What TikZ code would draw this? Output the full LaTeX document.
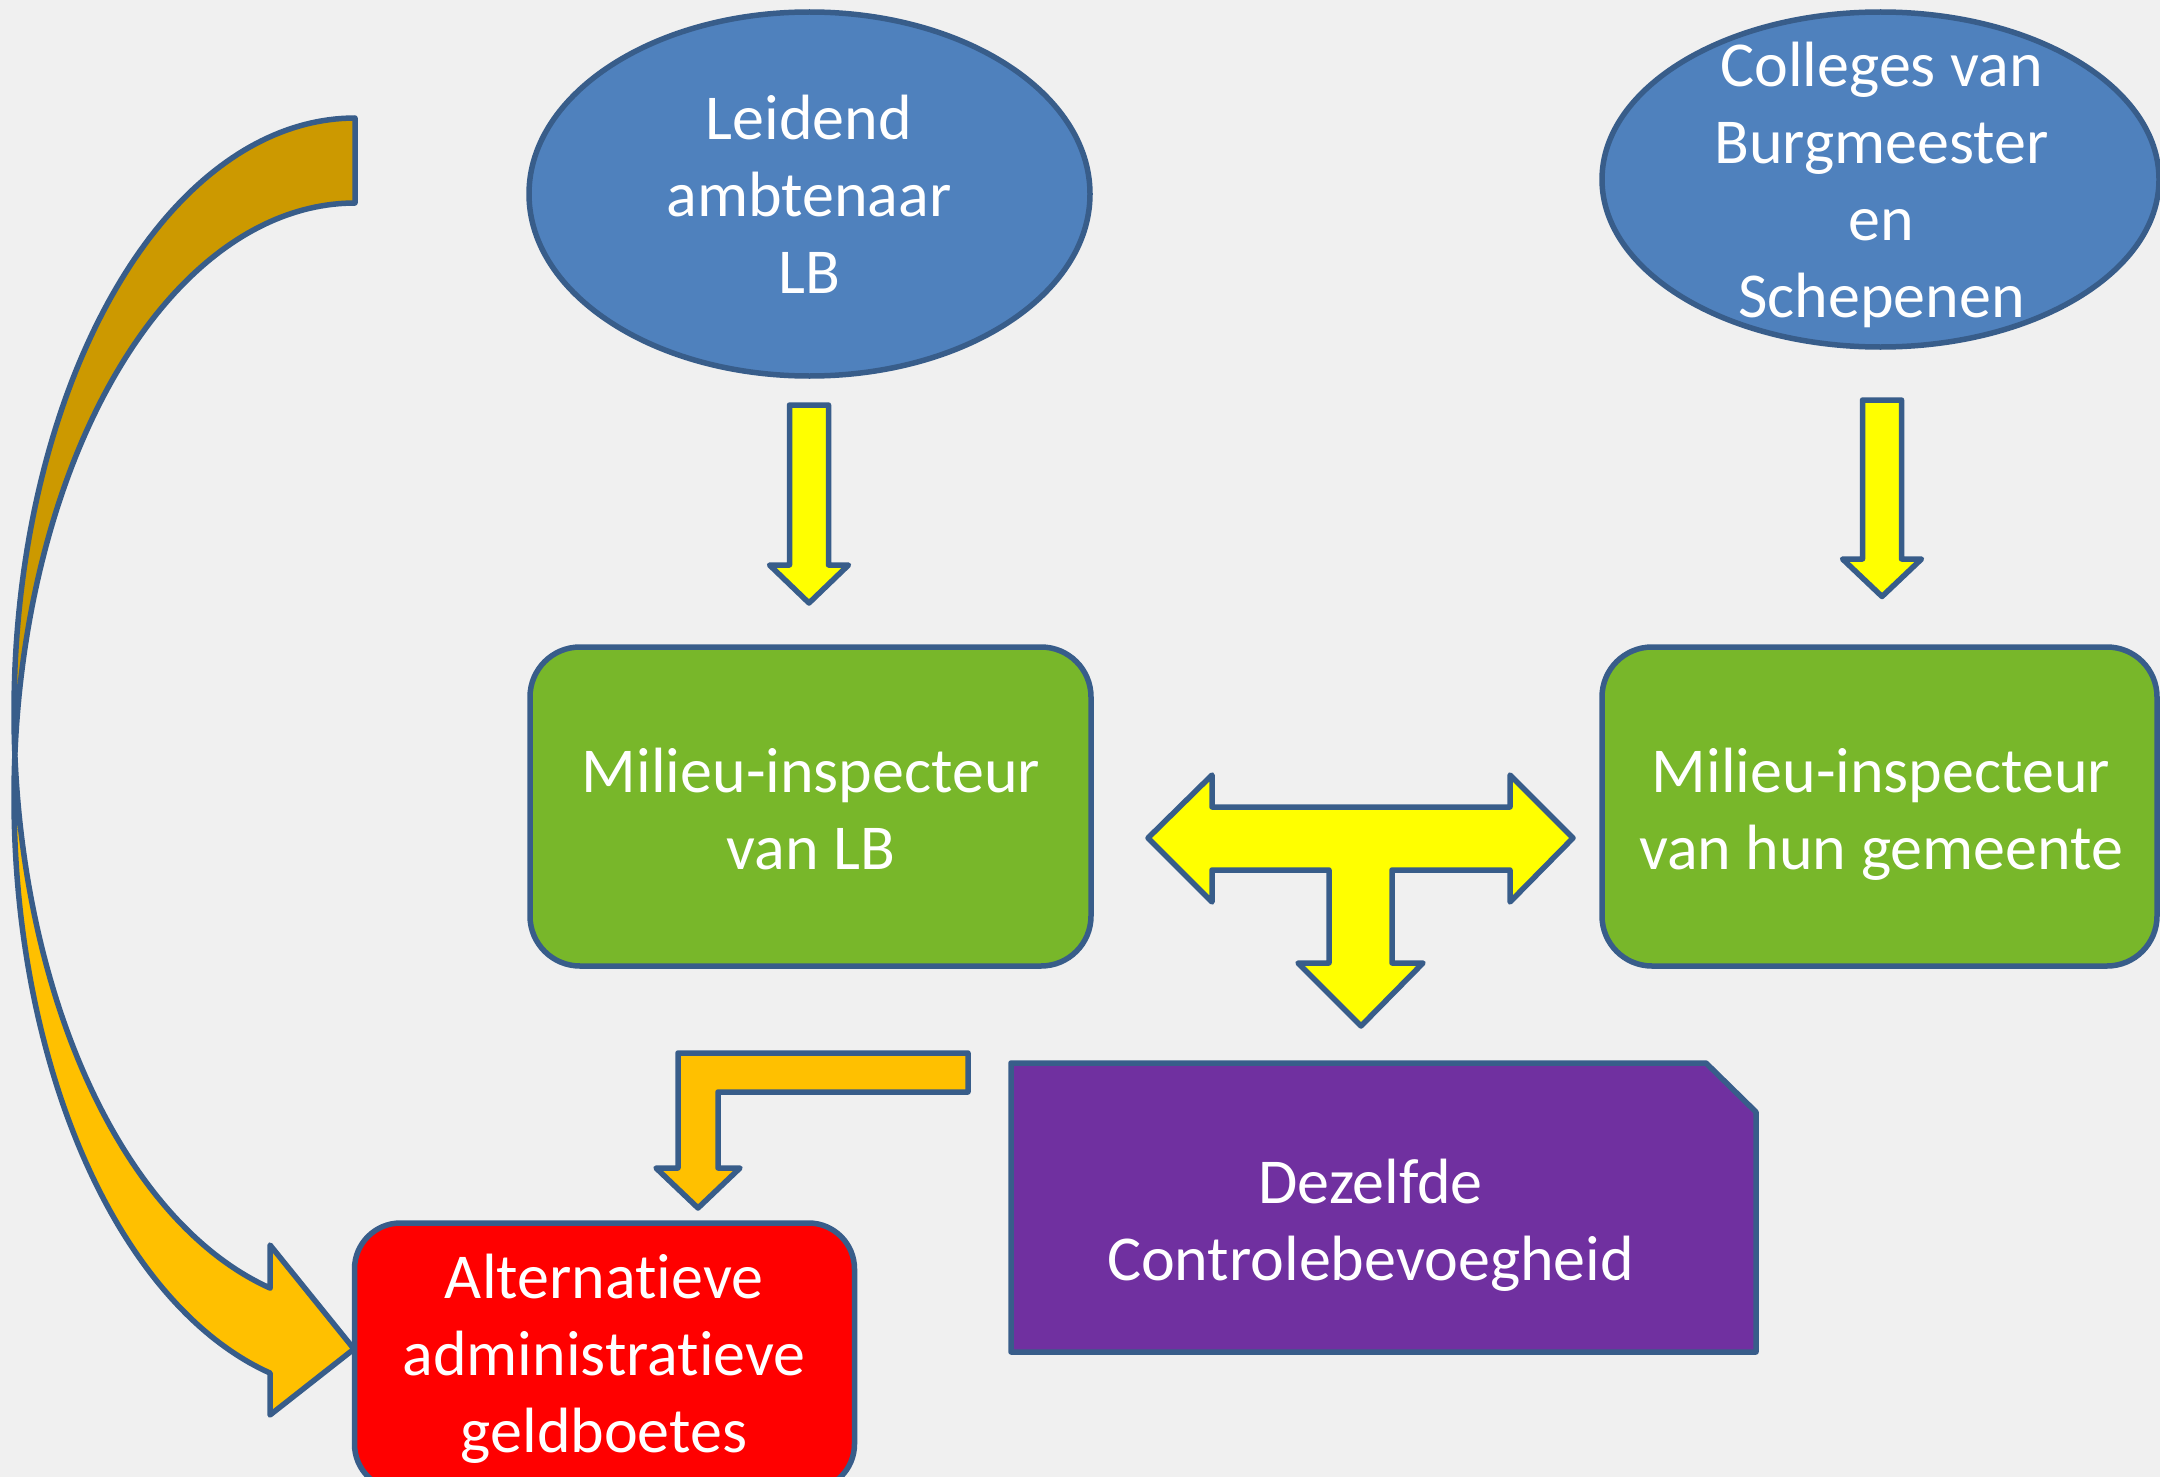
\documentclass[tikz,border=0pt]{standalone}
\usepackage{fontspec}
\setmainfont{Carlito}[Ligatures={NoCommon,NoRare,NoContextual}]
\usetikzlibrary{shapes.geometric}
\definecolor{bgc}{HTML}{F0F0F0}
\definecolor{bord}{HTML}{385D8A}
\definecolor{blueA}{HTML}{4F81BD}
\definecolor{greenA}{HTML}{78B72A}
\definecolor{yellowA}{HTML}{FFFF00}
\definecolor{goldA}{HTML}{FFC000}
\definecolor{goldD}{HTML}{CC9900}
\definecolor{redA}{HTML}{FF0000}
\definecolor{purpleA}{HTML}{7030A0}
\tikzset{
  outl/.style={draw=bord, line width=5.5pt, line join=round},
  blueell/.style={outl, ellipse, fill=blueA, inner sep=0pt},
  greenbox/.style={outl, rectangle, rounded corners=50pt, fill=greenA, minimum width=561pt, minimum height=319pt, inner sep=0pt},
  redbox/.style={outl, rectangle, rounded corners=46pt, fill=redA, minimum width=500pt, minimum height=267pt, inner sep=0pt},
  purplebox/.style={outl, fill=purpleA},
  txt/.style={text=white, align=center, font=\fontsize{64}{77}\selectfont, inner sep=0pt},
  yarrow/.style={outl, fill=yellowA},
  garrow/.style={outl, fill=goldA},
  darrow/.style={outl, fill=goldD}
}
\begin{document}
\begin{tikzpicture}[x=1pt, y=-1pt]
\useasboundingbox (0,0) rectangle (2160,1477);
\fill[bgc] (0,0) rectangle (2160,1477);
\clip (0,0) rectangle (2160,1477);

% curved arrow (back part, darker)
\path[darrow] plot[domain=-90:-184.1, samples=90, variable=\t] ({355+341*cos(\t)},{712.4+594.4*sin(\t)})
  -- plot[domain=-175.9:-90, samples=90, variable=\t] ({355+341*cos(\t)},{797.4+594.4*sin(\t)})
  -- cycle;
% curved arrow (front part)
\path[garrow] plot[domain=184.1:104.4, samples=90, variable=\t] ({355+341*cos(\t)},{797.4+594.4*sin(\t)})
  -- (270,1415) -- (354,1349) -- (270,1245) -- (270,1288)
  -- plot[domain=104.4:175.9, samples=90, variable=\t] ({355+341*cos(\t)},{712.4+594.4*sin(\t)})
  -- cycle;

% ellipses
\node[blueell, minimum width=561pt, minimum height=364pt] (lb) at (809.5,194) {};
\node[txt] (lbt) at (809,201.5) {Leidend\strut\\ambtenaar\strut\\LB\strut};
\node[blueell, minimum width=557pt, minimum height=335pt] (cbs) at (1880.5,179.5) {};
\node[txt] (cbst) at (1881.5,187) {Colleges van\strut\\Burgmeester\strut\\en\strut\\Schepenen\strut};

% green boxes
\node[greenbox] (mi1) at (810.5,806.5) {};
\node[txt] (mi1t) at (811,815.5) {Milieu-inspecteur\strut\\van LB\strut};
\node[greenbox, minimum width=555pt] (mi2) at (1879.5,806.5) {};
\node[txt] (mi2t) at (1881,815.5) {Milieu-inspecteur\strut\\van hun gemeente\strut};

% down arrows
\path[yarrow] (789.5,405) -- (828.5,405) -- (828.5,565) -- (848.5,565) -- (809,603) -- (769.5,565) -- (789.5,565) -- cycle;
\path[yarrow] (1862.5,400) -- (1901.5,400) -- (1901.5,559) -- (1921.5,559) -- (1882,596.5) -- (1842.5,559) -- (1862.5,559) -- cycle;

% T arrow
\path[yarrow] (1148,838) -- (1212,775) -- (1212,807) -- (1510,807) -- (1510,775) -- (1573,838)
  -- (1510,902) -- (1510,870) -- (1392,870) -- (1392,963) -- (1423,963) -- (1361,1026)
  -- (1298,963) -- (1329,963) -- (1329,870) -- (1212,870) -- (1212,902) -- cycle;

% bent arrow
\path[garrow] (968,1053) -- (968,1092) -- (718,1092) -- (718,1168) -- (740,1168) -- (698,1208)
  -- (656,1168) -- (678,1168) -- (678,1053) -- cycle;

% purple snipped box
\coordinate (pu) at (1383.5,1207.5);
\path[purplebox] (1011,1063) -- (1706,1063) -- (1756,1112) -- (1756,1352) -- (1011,1352) -- cycle;
\node[txt] (put) at (1370.5,1227) {Dezelfde\strut\\Controlebevoegheid\strut};

% red box
\node[redbox] (rb) at (604.5,1356.5) {};
\node[txt] (rbt) at (604,1360) {Alternat\kern0pt ieve\strut\\administrat\kern0pt ieve\strut\\geldboetes\strut};
\end{tikzpicture}
\end{document}
